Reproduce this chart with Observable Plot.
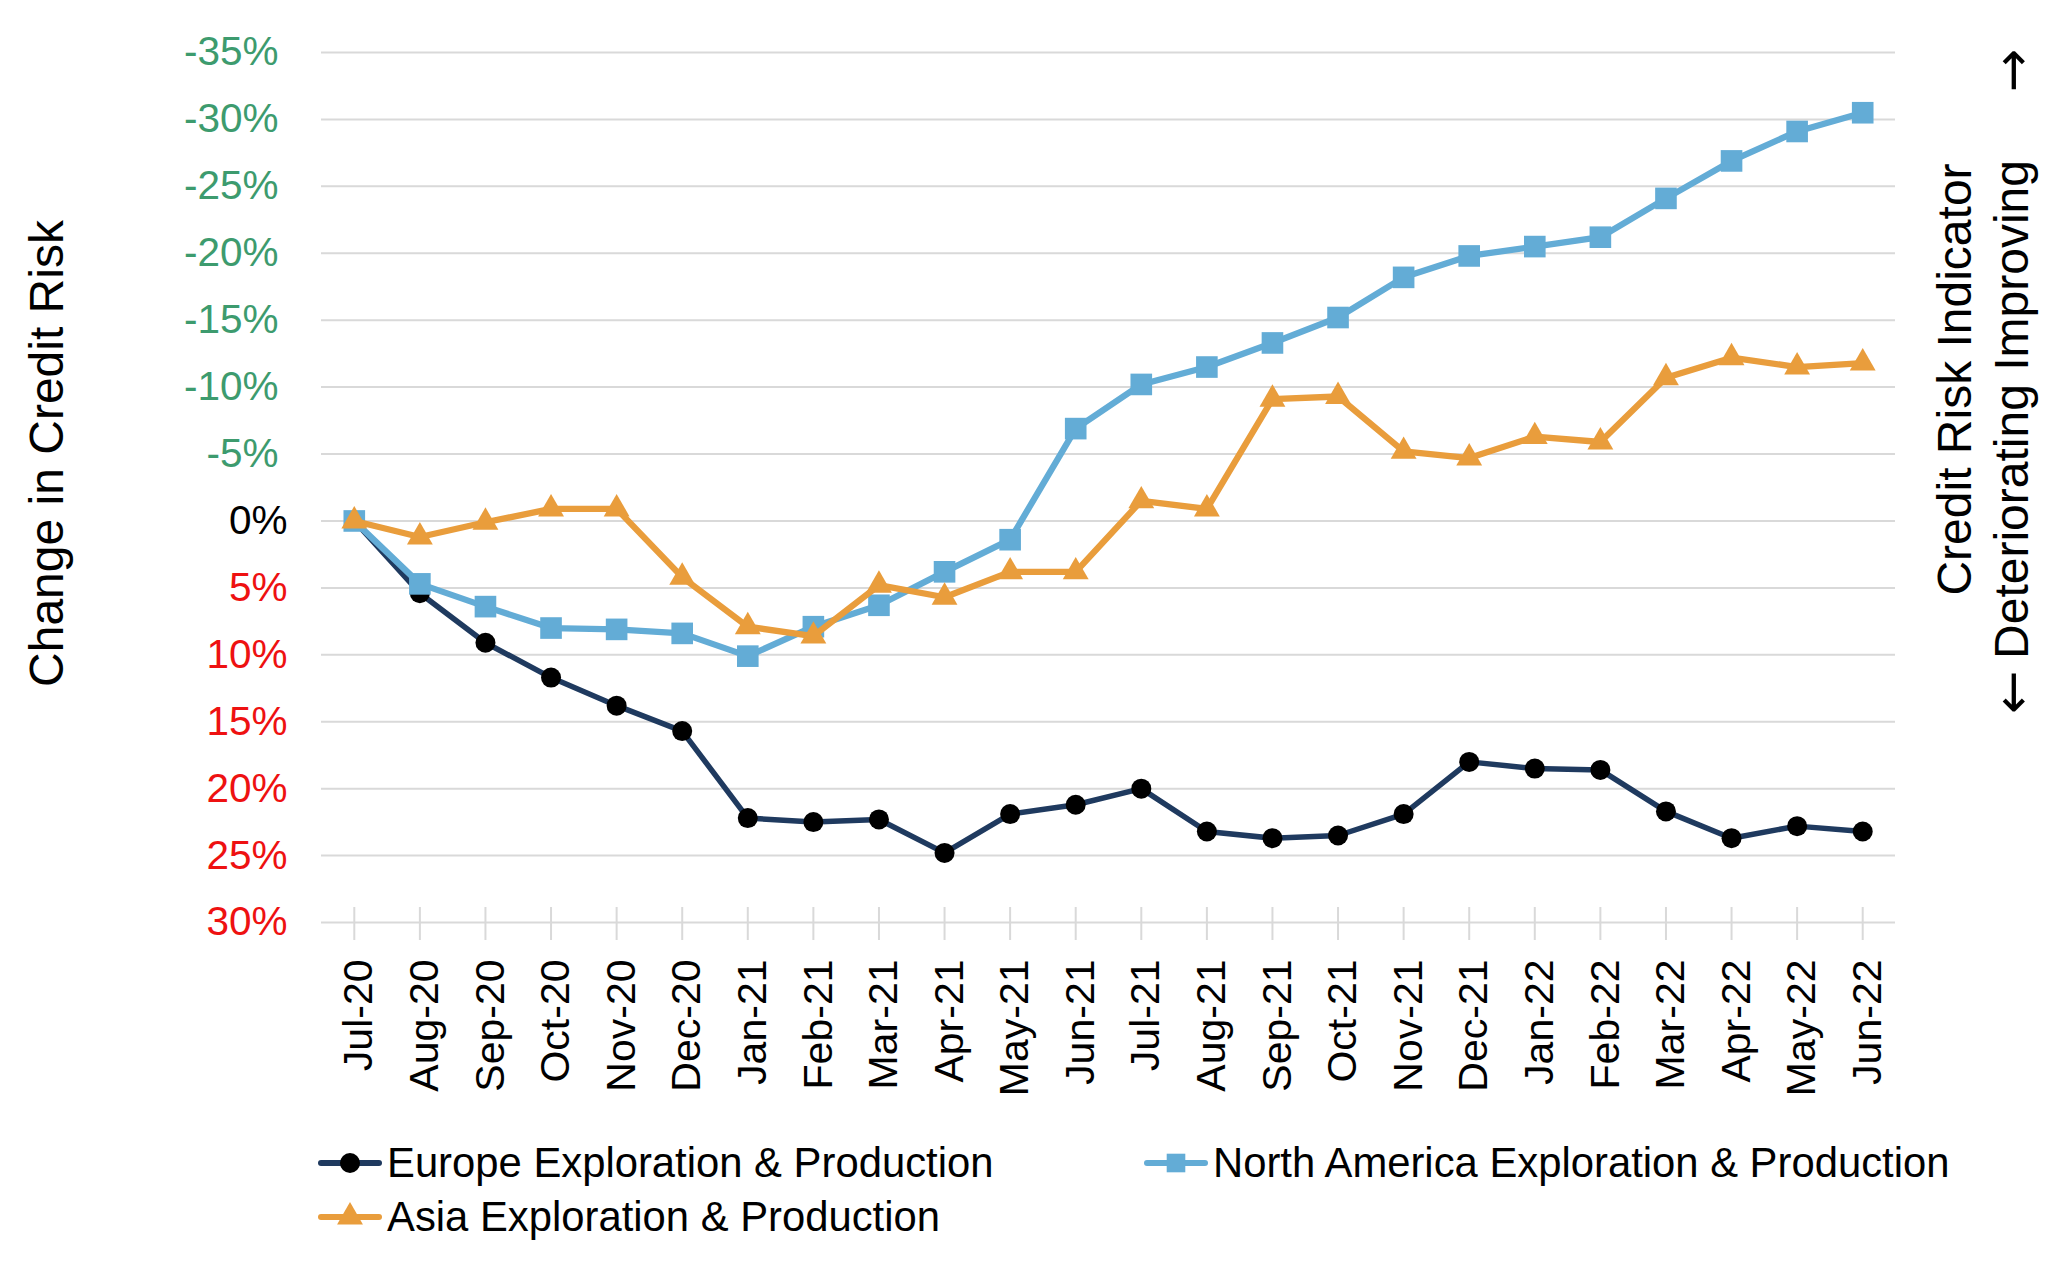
<!DOCTYPE html>
<html><head><meta charset="utf-8">
<script src="https://cdn.jsdelivr.net/npm/d3@7"></script>
<script src="https://cdn.jsdelivr.net/npm/@observablehq/plot@0.6"></script>
<style>
body{margin:0;background:#fff;font-family:"Liberation Sans",Arial,sans-serif;}
#legend{position:relative;width:2048px;height:160px;}
.item{position:absolute;display:flex;align-items:center;height:50px;font-size:41.8px;color:#000;white-space:nowrap;}
.item svg{margin-right:5px;}
</style></head><body>
<div id="chart"></div><div id="legend"></div>
<script>
const months = ["Jul-20","Aug-20","Sep-20","Oct-20","Nov-20","Dec-20","Jan-21","Feb-21","Mar-21","Apr-21","May-21","Jun-21","Jul-21","Aug-21","Sep-21","Oct-21","Nov-21","Dec-21","Jan-22","Feb-22","Mar-22","Apr-22","May-22","Jun-22"];
const europe = [0, 5.4, 9.1, 11.7, 13.8, 15.7, 22.2, 22.5, 22.3, 24.8, 21.9, 21.2, 20.0, 23.2, 23.7, 23.5, 21.9, 18.0, 18.5, 18.6, 21.7, 23.7, 22.8, 23.2];
const northAmerica = [0, 4.7, 6.4, 8.0, 8.1, 8.4, 10.1, 7.9, 6.3, 3.8, 1.4, -6.9, -10.2, -11.5, -13.3, -15.2, -18.2, -19.8, -20.5, -21.2, -24.1, -26.9, -29.1, -30.5];
const asia = [0, 1.2, 0.1, -0.9, -0.9, 4.2, 7.9, 8.6, 4.8, 5.7, 3.8, 3.8, -1.5, -0.9, -9.1, -9.3, -5.2, -4.7, -6.3, -5.9, -10.7, -12.2, -11.5, -11.8];
const seriesNames = ["Europe Exploration & Production", "North America Exploration & Production", "Asia Exploration & Production"];
const yTicks = [-35, -30, -25, -20, -15, -10, -5, 0, 5, 10, 15, 20, 25, 30];
const yTitle = "Change in Credit Risk";
const rightTitle = "Credit Risk Indicator";
const rightSub = "Deteriorating Improving";

const lineColors = ["#1f3a5f", "#63acd6", "#e99d3c"];
const markerColors = ["#000000", "#63acd6", "#e99d3c"];
const symbols = ["circle", "square", "triangle"];
const radii = [10, 12.2, 9.6];
const strokeWidths = [5.5, 6.3, 6.3];

const seriesValues = [europe, northAmerica, asia];
const tables = seriesValues.map((vals, i) => vals.map((v, j) => ({month: months[j], value: v, series: seriesNames[i]})));

const font = "Liberation Sans, Arial, sans-serif";
const marks = [
  Plot.gridY(yTicks, {stroke: "#d9d9d9", strokeOpacity: 1, strokeWidth: 2}),
  Plot.ruleX(months, {x: d => d, stroke: "#d9d9d9", strokeWidth: 2, insetTop: 837, dy: 18}),
  Plot.ruleY([0], {x1: months[0], x2: months[months.length - 1], stroke: "#595959", strokeWidth: 1.5, strokeDasharray: "1.5,2.5"})
];
tables.forEach((t, i) => {
  marks.push(Plot.line(t, {x: "month", y: "value", stroke: lineColors[i], strokeWidth: strokeWidths[i], strokeLinejoin: "round"}));
  marks.push(Plot.dot(t, {x: "month", y: "value", symbol: symbols[i], r: radii[i], fill: markerColors[i], stroke: "none"}));
});
// y tick labels
marks.push(Plot.text(yTicks.filter(d => d < 0), {y: d => d, text: d => d + "%", frameAnchor: "left", dx: -43, textAnchor: "end", fill: "#3d9b6e", fontSize: 40.5}));
marks.push(Plot.text(yTicks.filter(d => d === 0), {y: d => d, text: d => d + "%", frameAnchor: "left", dx: -34, textAnchor: "end", fill: "#000", fontSize: 40.5}));
marks.push(Plot.text(yTicks.filter(d => d > 0), {y: d => d, text: d => d + "%", frameAnchor: "left", dx: -34, textAnchor: "end", fill: "#ee1111", fontSize: 40.5}));
// x tick labels
marks.push(Plot.text(months, {x: d => d, text: d => d, frameAnchor: "bottom", dy: 37, dx: 5, rotate: -90, textAnchor: "end", lineAnchor: "middle", fill: "#000", fontSize: 41}));
// axis titles
marks.push(Plot.text([yTitle], {text: d => d, frameAnchor: "left", dx: -274, dy: -34, rotate: -90, textAnchor: "middle", lineAnchor: "middle", fill: "#000", fontSize: 48}));
marks.push(Plot.text([rightTitle], {text: d => d, frameAnchor: "right", dx: 60, dy: -108, rotate: -90, textAnchor: "middle", lineAnchor: "middle", fill: "#000", fontSize: 48}));
marks.push(Plot.text([rightSub], {text: d => d, frameAnchor: "right", dx: 117, dy: -78, rotate: -90, textAnchor: "middle", lineAnchor: "middle", fill: "#000", fontSize: 48}));
marks.push(Plot.text(["\u2192"], {text: d => d, frameAnchor: "right", dx: 118, dy: -417, rotate: -90, textAnchor: "middle", lineAnchor: "middle", fill: "#000", fontSize: 52, fontFamily: "DejaVu Sans"}));
marks.push(Plot.text(["\u2190"], {text: d => d, frameAnchor: "right", dx: 118, dy: 205, rotate: -90, textAnchor: "middle", lineAnchor: "middle", fill: "#000", fontSize: 52, fontFamily: "DejaVu Sans"}));

const chart = Plot.plot({
  width: 2048,
  height: 1120,
  marginTop: 52,
  marginRight: 153,
  marginBottom: 198,
  marginLeft: 321,
  style: {fontFamily: font, background: "#fff", overflow: "visible"},
  x: {type: "point", domain: months, padding: 0.5, round: false, axis: null},
  y: {domain: [-35, 30], reverse: true, axis: null},
  marks
});
document.getElementById("chart").appendChild(chart);

// legend
const legend = d3.select("#legend");
const positions = [[318, 18], [1144, 18], [318, 72]];
seriesNames.forEach((name, i) => {
  const item = legend.append("div").attr("class", "item")
    .style("left", positions[i][0] + "px").style("top", positions[i][1] + "px");
  const svg = item.append("svg").attr("width", 64).attr("height", 50);
  svg.append("line").attr("x1", 3).attr("x2", 61).attr("y1", 25).attr("y2", 25)
    .attr("stroke", lineColors[i]).attr("stroke-width", 6).attr("stroke-linecap", "round");
  const sym = {circle: d3.symbolCircle, square: d3.symbolSquare, triangle: d3.symbolTriangle}[symbols[i]];
  svg.append("path").attr("transform", "translate(32,25)")
    .attr("d", d3.symbol(sym, Math.PI * Math.min(radii[i], 10.5) * Math.min(radii[i], 10.5))())
    .attr("fill", markerColors[i]);
  item.append("span").text(name);
});
</script>
</body></html>
